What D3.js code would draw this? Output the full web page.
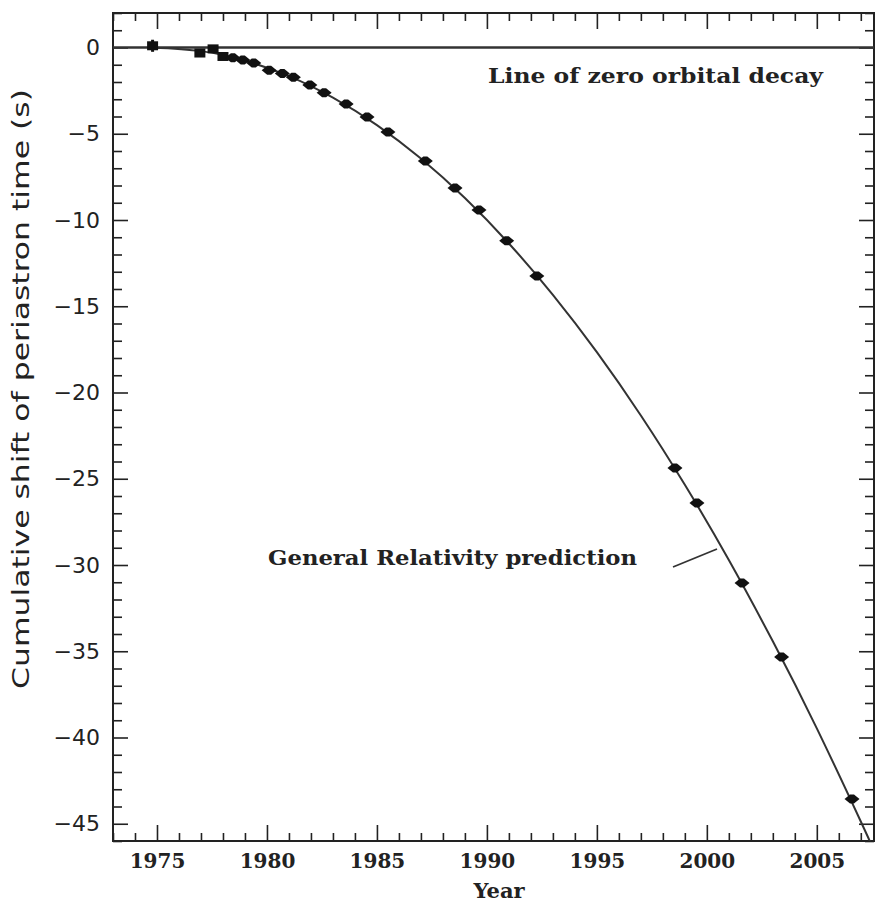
<!DOCTYPE html>
<html>
<head>
<meta charset="utf-8">
<script src="https://cdn.jsdelivr.net/npm/d3@7"></script>
<style>
  body { margin: 0; background: #fff; }
  svg { display: block; }
  .serif { font-family: "DejaVu Serif", "Liberation Serif", serif; font-weight: bold; fill: #222; }
  .sans { font-family: "DejaVu Sans", "Liberation Sans", sans-serif; fill: #222; }
</style>
</head>
<body>
<div id="chart"></div>
<script>
// ---- data ----
var obsYear  = [1974.8, 1976.95, 1977.55, 1978.0, 1978.45, 1978.9, 1979.4, 1980.1, 1980.7, 1981.2,
                1981.95, 1982.6, 1983.6, 1984.55, 1985.5, 1987.2, 1988.55, 1989.64, 1990.9, 1992.27,
                1998.55, 1999.55, 2001.6, 2003.4, 2006.6];
var obsShift = [0.1, -0.32, -0.08, -0.52, -0.6, -0.72, -0.9, -1.32, -1.5, -1.73,
                -2.17, -2.62, -3.28, -4.03, -4.9, -6.58, -8.14, -9.42, -11.2, -13.25,
                -24.38, -26.4, -31.04, -35.33, -43.57];
var obsErr   = [0.35, 0.2, 0.15, 0.1, 0, 0, 0, 0, 0, 0,
                0, 0, 0, 0, 0, 0, 0, 0, 0, 0,
                0, 0, 0, 0, 0];

// General Relativity prediction curve
var grYear  = [1974.8, 1977, 1979, 1981, 1983, 1985, 1987, 1989, 1991, 1993,
               1995, 1997, 1999, 2001, 2003, 2005, 2007, 2007.6];
var grShift = [0, -0.21, -0.76, -1.66, -2.91, -4.5, -6.44, -8.73, -11.36, -14.34,
               -17.66, -21.33, -25.35, -29.71, -34.42, -39.47, -44.87, -46.56];

var xMajorTicks = [1975, 1980, 1985, 1990, 1995, 2000, 2005];
var yMajorTicks = [0, -5, -10, -15, -20, -25, -30, -35, -40, -45];

// ---- layout ----
var W = 875, H = 904;
var margins = { left: 113, right: 1, top: 13, bottom: 63 };
var width = W - margins.left - margins.right;
var height = H - margins.top - margins.bottom;

var svg = d3.select("#chart").append("svg")
    .attr("width", W).attr("height", H)
    .append("g")
    .attr("transform", "translate(" + margins.left + "," + margins.top + ")");

var x = d3.scaleLinear().domain([1973, 2007.6]).range([0, width]);
var y = d3.scaleLinear().domain([2, -46]).range([0, height]);

var xMinor = d3.range(1973, 2008, 1).filter(function (d) { return xMajorTicks.indexOf(d) < 0; });
var yMinor = d3.range(-46, 3, 1).filter(function (d) { return yMajorTicks.indexOf(d) < 0; });

function styleAxis(g) {
    g.select(".domain").remove();
    g.selectAll(".tick line").attr("stroke", "#222").attr("stroke-width", 1.6);
}

// bottom axis (ticks pointing inward)
svg.append("g").attr("transform", "translate(0," + height + ")")
    .call(d3.axisBottom(x).tickValues(xMinor).tickSize(-8).tickFormat(""))
    .call(styleAxis);
svg.append("g").attr("class", "x axis").attr("transform", "translate(0," + height + ")")
    .call(d3.axisBottom(x).tickValues(xMajorTicks).tickSize(-16).tickPadding(13).tickFormat(d3.format("d")))
    .call(styleAxis)
    .selectAll("text").attr("class", "serif").style("font-size", "20px").attr("fill", "#222");

// top axis
svg.append("g")
    .call(d3.axisTop(x).tickValues(xMinor).tickSize(-8).tickFormat(""))
    .call(styleAxis);
svg.append("g")
    .call(d3.axisTop(x).tickValues(xMajorTicks).tickSize(-16).tickFormat(""))
    .call(styleAxis);

// left axis
svg.append("g")
    .call(d3.axisLeft(y).tickValues(yMinor).tickSize(-9).tickFormat(""))
    .call(styleAxis);
svg.append("g").attr("class", "y axis")
    .call(d3.axisLeft(y).tickValues(yMajorTicks).tickSize(-15).tickPadding(13))
    .call(styleAxis)
    .selectAll("text").attr("class", "sans").style("font-size", "22px").attr("fill", "#222");

// right axis
svg.append("g").attr("transform", "translate(" + width + ",0)")
    .call(d3.axisRight(y).tickValues(yMinor).tickSize(-9).tickFormat(""))
    .call(styleAxis);
svg.append("g").attr("transform", "translate(" + width + ",0)")
    .call(d3.axisRight(y).tickValues(yMajorTicks).tickSize(-15).tickFormat(""))
    .call(styleAxis);

// frame
svg.append("rect")
    .attr("width", width).attr("height", height)
    .attr("fill", "none").attr("stroke", "#222").attr("stroke-width", 2);

// clip
svg.append("clipPath").attr("id", "plot-clip")
    .append("rect").attr("width", width).attr("height", height);

var plot = svg.append("g").attr("clip-path", "url(#plot-clip)");

// zero orbital decay line
plot.append("line")
    .attr("x1", 0).attr("x2", width)
    .attr("y1", y(0)).attr("y2", y(0))
    .attr("stroke", "#333").attr("stroke-width", 2.6);

// GR prediction curve
var grData = grYear.map(function (d, i) { return { year: d, shift: grShift[i] }; });
var linePath = d3.line()
    .x(function (d) { return x(d.year); })
    .y(function (d) { return y(d.shift); })
    .curve(d3.curveNatural);
plot.append("path")
    .datum(grData)
    .attr("d", linePath)
    .attr("fill", "none")
    .attr("stroke", "#333")
    .attr("stroke-width", 2);

// observed points
var obs = obsYear.map(function (d, i) { return { year: d, shift: obsShift[i], err: obsErr[i] }; });

plot.selectAll(".err")
    .data(obs.filter(function (d) { return d.err > 0; }))
    .join("line")
    .attr("class", "err")
    .attr("x1", function (d) { return x(d.year); })
    .attr("x2", function (d) { return x(d.year); })
    .attr("y1", function (d) { return y(d.shift + d.err); })
    .attr("y2", function (d) { return y(d.shift - d.err); })
    .attr("stroke", "#111").attr("stroke-width", 3);

plot.selectAll(".pt")
    .data(obs)
    .join("path")
    .attr("class", "pt")
    .attr("transform", function (d) { return "translate(" + x(d.year) + "," + y(d.shift) + ")"; })
    .attr("d", function (d) {
        return d.err > 0
            ? "M-5.5,-4.5L5.5,-4.5L5.5,4.5L-5.5,4.5Z"
            : "M-7.5,0L-2,-4.5L2,-4.5L7.5,0L2,4.5L-2,4.5Z";
    })
    .attr("fill", "#111");

// annotations
svg.append("text")
    .attr("class", "serif")
    .attr("x", 375).attr("y", 70)
    .attr("textLength", 335).attr("lengthAdjust", "spacingAndGlyphs")
    .style("font-size", "20px")
    .text("Line of zero orbital decay");

svg.append("text")
    .attr("class", "serif")
    .attr("x", 155).attr("y", 552)
    .attr("textLength", 369).attr("lengthAdjust", "spacingAndGlyphs")
    .style("font-size", "20px")
    .text("General Relativity prediction");

svg.append("line")
    .attr("x1", 560).attr("y1", 554)
    .attr("x2", 604).attr("y2", 536)
    .attr("stroke", "#333").attr("stroke-width", 1.8);

// axis titles
svg.append("text")
    .attr("class", "serif")
    .attr("x", 386).attr("y", height + 57)
    .attr("text-anchor", "middle")
    .style("font-size", "21px")
    .text("Year");

svg.append("text")
    .attr("class", "sans")
    .attr("transform", "translate(-84," + (height / 2 - 38) + ") rotate(-90)")
    .attr("text-anchor", "middle")
    .attr("textLength", 600).attr("lengthAdjust", "spacingAndGlyphs")
    .style("font-size", "23px")
    .text("Cumulative shift of periastron time (s)");
</script>
</body>
</html>
